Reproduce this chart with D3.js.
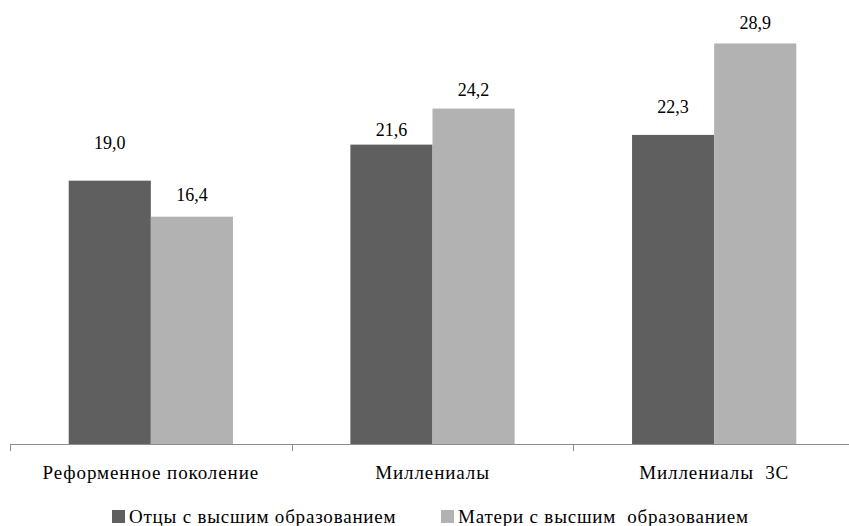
<!DOCTYPE html>
<html>
<head>
<meta charset="utf-8">
<script src="https://cdn.jsdelivr.net/npm/d3@7"></script>
</head>
<body style="margin:0">
<svg id="t" width="849" height="526"></svg>
<script>
// Доля детей с высшим образованием родителей, %
const categories = ["Реформенное поколение", "Миллениалы", "Миллениалы\u00A0 3С"];
const seriesNames = ["Отцы с высшим образованием", "Матери с высшим\u00A0 образованием"];
const fathers = [19.0, 21.6, 22.3];
const mothers = [16.4, 24.2, 28.9];

const colors = ["#5f5f5f", "#b2b2b2"];
// vertical gap between each bar top and its value label
const labelLift = [[38, 15, 28], [22, 19, 20]];

const svg = d3.select("#t");
const baseY = 444;

const x0 = d3.scaleBand().domain(categories).range([10, 855]).paddingInner(0).paddingOuter(0);
const x1 = d3.scaleBand().domain([0, 1]).range([0, x0.bandwidth()]).paddingInner(0).paddingOuter(0.715);
const y = d3.scaleLinear().domain([0, 30]).range([baseY, baseY - 30 * 13.86]);

const series = [fathers, mothers];
const fmt = v => d3.format(".1f")(v).replace(".", ",");

function addText(x, yPos, str, size, spacing, anchor) {
  const t = svg.append("text").attr("x", x).attr("y", yPos)
    .style("font-family", '"Liberation Serif"')
    .style("font-size", size + "px")
    .text(str);
  if (spacing) t.style("letter-spacing", spacing + "px");
  if (anchor) t.attr("text-anchor", anchor);
  return t;
}

// bars
series.forEach((vals, s) => {
  svg.append("g").selectAll("rect")
    .data(vals)
    .join("rect")
    .attr("x", (d, i) => x0(categories[i]) + x1(s))
    .attr("y", d => y(d))
    .attr("width", x1.bandwidth())
    .attr("height", d => y(0) - y(d))
    .attr("fill", colors[s]);
});

// value labels
series.forEach((vals, s) => {
  vals.forEach((v, i) => {
    addText(x0(categories[i]) + x1(s) + x1.bandwidth() / 2,
            y(v) - labelLift[s][i] + 6, fmt(v), 18, 0, "middle");
  });
});

// category labels under the axis
categories.forEach(c => {
  addText(x0(c) + x0.bandwidth() / 2, baseY + 35, c, 19, 0.9, "middle");
});

// axis line with boundary ticks
svg.append("line")
  .attr("x1", 10).attr("x2", 855)
  .attr("y1", baseY + 0.5).attr("y2", baseY + 0.5)
  .attr("stroke", "#8c8c8c").attr("stroke-width", 1);

const bounds = categories.map(c => x0(c)).concat([x0.range()[1]]);
svg.append("g").selectAll("line")
  .data(bounds)
  .join("line")
  .attr("x1", d => Math.round(d) + 0.5).attr("x2", d => Math.round(d) + 0.5)
  .attr("y1", baseY).attr("y2", baseY + 7)
  .attr("stroke", "#8c8c8c").attr("stroke-width", 1);

// legend
const legendX = [112, 441];
seriesNames.forEach((name, s) => {
  svg.append("rect")
    .attr("x", legendX[s]).attr("y", 510)
    .attr("width", 13).attr("height", 13)
    .attr("fill", colors[s]);
  addText(legendX[s] + 17, 523, name, 19, 0.8);
});
</script>
</body>
</html>
